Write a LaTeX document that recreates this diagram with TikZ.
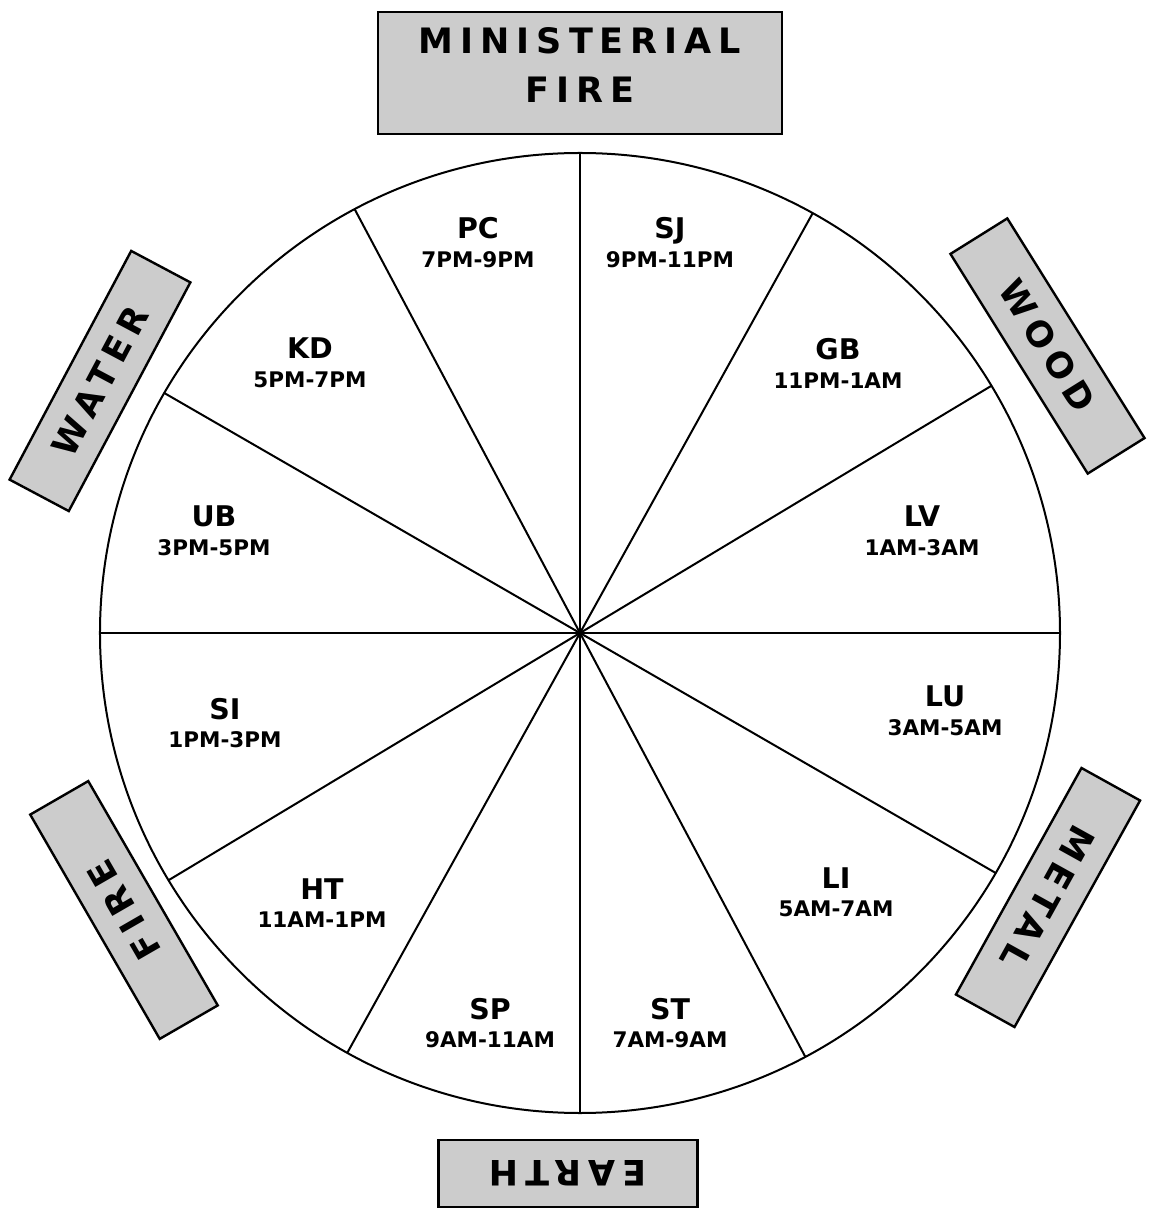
\documentclass[tikz,border=0pt]{standalone}
\usepackage{fontspec}
\setmainfont{DejaVu Sans}
\newfontfamily\elemfont[LetterSpace=20]{DejaVu Sans}
\usetikzlibrary{positioning}

\begin{document}
\begin{tikzpicture}[
  x=1pt, y=1pt,
  elem/.style  = {rectangle, draw, line width=2.4pt, fill=black!20, inner sep=0pt,
                  minimum width=259pt, minimum height=67pt, align=center,
                  font=\elemfont\bfseries\fontsize{35}{49}\selectfont},
  organ/.style = {anchor=base, inner sep=0pt, font=\bfseries\fontsize{28.5}{30}\selectfont},
  hours/.style = {anchor=base, inner sep=0pt, font=\bfseries\fontsize{21.5}{24}\selectfont},
  spoke/.style = {line width=2pt}
]
  \useasboundingbox (-580,-582) rectangle (571,633);

  % the clock
  \node[circle, draw, line width=2pt, outer sep=0pt, inner sep=0pt,
        minimum size=960pt] (C) at (0,0) {};
  \draw[spoke] (C.0) -- (C.180);
  \draw[spoke] (C.31.5) -- (C.211.5);
  \draw[spoke] (C.61.5) -- (C.241.5);
  \draw[spoke] (C.90) -- (C.270);
  \draw[spoke] (C.118.5) -- (C.298.5);
  \draw[spoke] (C.150) -- (C.330);

  % elements
  \node[elem, minimum width=404pt, minimum height=122pt, line width=2.8pt,
        text depth=16pt] (MF) at (0,560) {MINISTERIAL\\FIRE};
  \node[elem, rotate=-58]  (Wood)  at (467.5,287)  {WOOD};
  \node[elem, rotate=62]   (Water) at (-480,252)   {WATER};
  \node[elem, rotate=-119] (Metal) at (468,-264.5) {METAL};
  \node[elem, rotate=120]  (Fire)  at (-456,-277)  {FIRE};
  \node[elem, rotate=180]  (Earth) at (-12,-540.5) {EARTH};

  % meridians and hours
  \node[organ] (PC) at (-102,394) {PC};
  \node[hours] (PCh) at ([yshift=-28.5pt]PC.base) {7PM-9PM};
  \node[organ] (SJ) at (90,394) {SJ};
  \node[hours] (SJh) at ([yshift=-28.5pt]SJ.base) {9PM-11PM};
  \node[organ] (KD) at (-270,274) {KD};
  \node[hours] (KDh) at ([yshift=-28.5pt]KD.base) {5PM-7PM};
  \node[organ] (GB) at (258,273) {GB};
  \node[hours] (GBh) at ([yshift=-28.5pt]GB.base) {11PM-1AM};
  \node[organ] (UB) at (-366,106) {UB};
  \node[hours] (UBh) at ([yshift=-28.5pt]UB.base) {3PM-5PM};
  \node[organ] (LV) at (342,106) {LV};
  \node[hours] (LVh) at ([yshift=-28.5pt]LV.base) {1AM-3AM};
  \node[organ] (SI) at (-355,-86) {SI};
  \node[hours] (SIh) at ([yshift=-28.5pt]SI.base) {1PM-3PM};
  \node[organ] (LU) at (365,-74) {LU};
  \node[hours] (LUh) at ([yshift=-28.5pt]LU.base) {3AM-5AM};
  \node[organ] (HT) at (-258,-266) {HT};
  \node[hours] (HTh) at ([yshift=-28.5pt]HT.base) {11AM-1PM};
  \node[organ] (LI) at (256,-255) {LI};
  \node[hours] (LIh) at ([yshift=-28.5pt]LI.base) {5AM-7AM};
  \node[organ] (SP) at (-90,-386) {SP};
  \node[hours] (SPh) at ([yshift=-28.5pt]SP.base) {9AM-11AM};
  \node[organ] (ST) at (90,-386) {ST};
  \node[hours] (STh) at ([yshift=-28.5pt]ST.base) {7AM-9AM};
\end{tikzpicture}
\end{document}
